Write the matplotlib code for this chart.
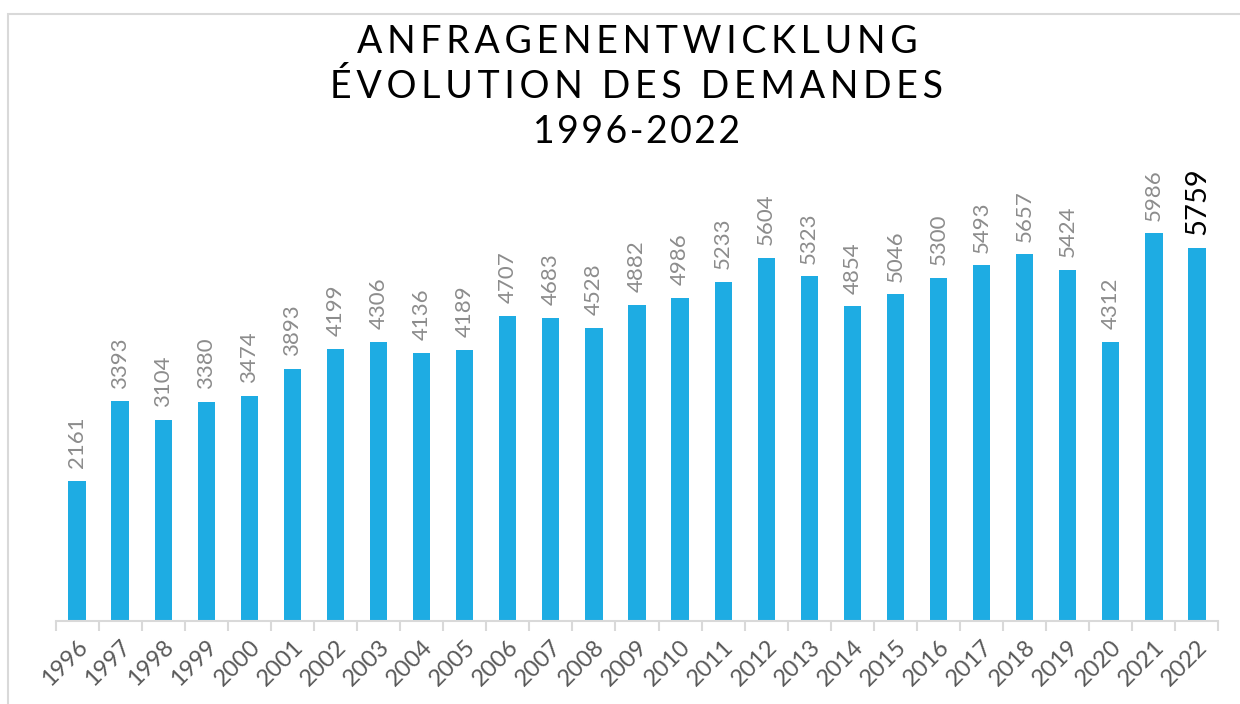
import matplotlib
matplotlib.use("Agg")
import matplotlib.pyplot as plt
import numpy as np

years = [str(y) for y in range(1996, 2023)]
requests = [2161, 3393, 3104, 3380, 3474, 3893, 4199, 4306, 4136, 4189,
            4707, 4683, 4528, 4882, 4986, 5233, 5604, 5323, 4854, 5046,
            5300, 5493, 5657, 5424, 4312, 5986, 5759]
title_lines = ["ANFRAGENENTWICKLUNG", "ÉVOLUTION DES DEMANDES", "1996-2022"]

plt.rcParams["font.family"] = ["Lato", "DejaVu Sans"]

fig = plt.figure(figsize=(12.4, 7.04), dpi=100)
# light frame around the chart
fig.patches.append(plt.Rectangle((8 / 1240, -0.1), 1.2, 1 - 14 / 704 + 0.1,
                                 transform=fig.transFigure, fill=False,
                                 edgecolor="#d9d9d9", lw=1.5))

ax = fig.add_axes([55.5 / 1240, 1 - 621 / 704, 1163 / 1240, 486 / 704])
x = np.arange(len(years))
ax.bar(x, requests, width=0.4, color="#1eace3")
ax.set_xlim(-0.5, len(years) - 0.5)
ax.set_ylim(0, 7500)

for i, v in enumerate(requests):
    last = i == len(requests) - 1
    ax.annotate(str(v), (i, v), xytext=(0, 9), textcoords="offset points",
                rotation=90, ha="center", va="bottom",
                fontsize=21 if last else 16,
                color="black" if last else "#8c8c8c")

for s in ["top", "right", "left"]:
    ax.spines[s].set_visible(False)
ax.spines["bottom"].set_color("#d9d9d9")
ax.spines["bottom"].set_linewidth(1.5)
ax.set_yticks([])
ax.set_xticks(x)
ax.set_xticklabels(years, rotation=45, ha="right", rotation_mode="anchor",
                   fontsize=17, color="#595959")
ax.tick_params(axis="x", which="major", length=0, pad=11)
ax.set_xticks(np.arange(-0.5, len(years), 1), minor=True)
ax.tick_params(axis="x", which="minor", length=7, color="#d9d9d9", width=1.5)

# letter-spaced title, three centred lines
for k, line in enumerate(title_lines):
    gap = "\u2009" if k < 2 else "\u200a"
    spaced = gap.join(line)
    fig.text(637 / 1240, 1 - (42 + k * 45) / 704, spaced, ha="center",
             va="center", fontsize=27, color="black")

fig.savefig("out.png", dpi=100)
